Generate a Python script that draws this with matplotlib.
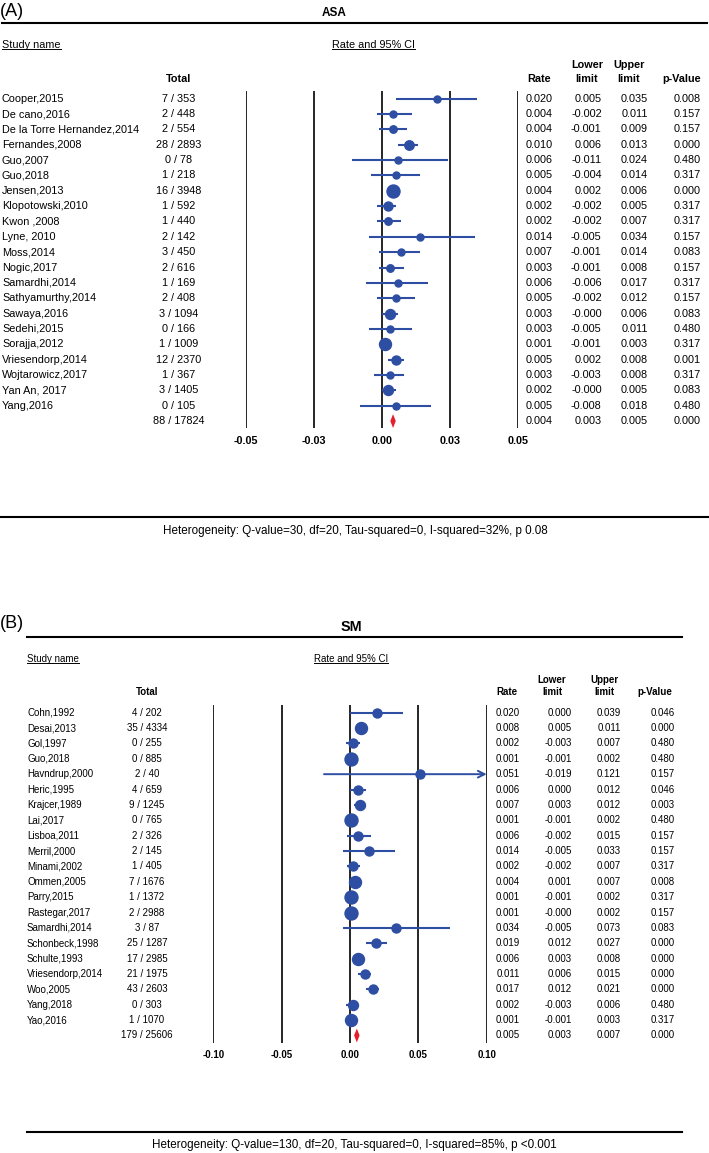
import matplotlib
matplotlib.use("Agg")
import matplotlib.pyplot as plt
from matplotlib import font_manager

plt.rcParams['font.family'] = ['Liberation Sans', 'DejaVu Sans']

W, H = 709, 1153
BLUE = '#2D4EA2'
RED = '#E4202B'

# ---------------- data: (A) ASA ----------------
study_a = ['Cooper,2015', 'De cano,2016', 'De la Torre Hernandez,2014', 'Fernandes,2008',
           'Guo,2007', 'Guo,2018', 'Jensen,2013', 'Klopotowski,2010', 'Kwon ,2008',
           'Lyne, 2010', 'Moss,2014', 'Nogic,2017', 'Samardhi,2014', 'Sathyamurthy,2014',
           'Sawaya,2016', 'Sedehi,2015', 'Sorajja,2012', 'Vriesendorp,2014',
           'Wojtarowicz,2017', 'Yan An, 2017', 'Yang,2016']
events_a = [7, 2, 2, 28, 0, 1, 16, 1, 1, 2, 3, 2, 1, 2, 3, 0, 1, 12, 1, 3, 0]
total_a = [353, 448, 554, 2893, 78, 218, 3948, 592, 440, 142, 450, 616, 169, 408,
           1094, 166, 1009, 2370, 367, 1405, 105]
rate_a = [0.020, 0.004, 0.004, 0.010, 0.006, 0.005, 0.004, 0.002, 0.002, 0.014, 0.007,
          0.003, 0.006, 0.005, 0.003, 0.003, 0.001, 0.005, 0.003, 0.002, 0.005]
lower_a = [0.005, -0.002, -0.001, 0.006, -0.011, -0.004, 0.002, -0.002, -0.002, -0.005,
           -0.001, -0.001, -0.006, -0.002, -0.0, -0.005, -0.001, 0.002, -0.003, -0.0, -0.008]
upper_a = [0.035, 0.011, 0.009, 0.013, 0.024, 0.014, 0.006, 0.005, 0.007, 0.034, 0.014,
           0.008, 0.017, 0.012, 0.006, 0.011, 0.003, 0.008, 0.008, 0.005, 0.018]
pval_a = [0.008, 0.157, 0.157, 0.000, 0.480, 0.317, 0.000, 0.317, 0.317, 0.157, 0.083,
          0.157, 0.317, 0.157, 0.083, 0.480, 0.317, 0.001, 0.317, 0.083, 0.480]
weight_a = [29, 29, 33, 53, 29, 29, 100, 48, 33, 29, 29, 33, 29, 29, 59, 29, 85, 48, 29, 59, 29]
pooled_a = [88, 17824, 0.004, 0.003, 0.005, 0.000]
het_a = 'Heterogeneity: Q-value=30, df=20, Tau-squared=0, I-squared=32%, p 0.08'

# ---------------- data: (B) SM ----------------
study_b = ['Cohn,1992', 'Desai,2013', 'Gol,1997', 'Guo,2018', 'Havndrup,2000', 'Heric,1995',
           'Krajcer,1989', 'Lai,2017', 'Lisboa,2011', 'Merril,2000', 'Minami,2002',
           'Ommen,2005', 'Parry,2015', 'Rastegar,2017', 'Samardhi,2014', 'Schonbeck,1998',
           'Schulte,1993', 'Vriesendorp,2014', 'Woo,2005', 'Yang,2018', 'Yao,2016']
events_b = [4, 35, 0, 0, 2, 4, 9, 0, 2, 2, 1, 7, 1, 2, 3, 25, 17, 21, 43, 0, 1]
total_b = [202, 4334, 255, 885, 40, 659, 1245, 765, 326, 145, 405, 1676, 1372, 2988, 87,
           1287, 2985, 1975, 2603, 303, 1070]
rate_b = [0.020, 0.008, 0.002, 0.001, 0.051, 0.006, 0.007, 0.001, 0.006, 0.014, 0.002,
          0.004, 0.001, 0.001, 0.034, 0.019, 0.006, 0.011, 0.017, 0.002, 0.001]
lower_b = [0.000, 0.005, -0.003, -0.001, -0.019, 0.000, 0.003, -0.001, -0.002, -0.005,
           -0.002, 0.001, -0.001, -0.0, -0.005, 0.012, 0.003, 0.006, 0.012, -0.003, -0.001]
upper_b = [0.039, 0.011, 0.007, 0.002, 0.121, 0.012, 0.012, 0.002, 0.015, 0.033, 0.007,
           0.007, 0.002, 0.002, 0.073, 0.027, 0.008, 0.015, 0.021, 0.006, 0.003]
pval_b = [0.046, 0.000, 0.480, 0.480, 0.157, 0.046, 0.003, 0.480, 0.157, 0.157, 0.317,
          0.008, 0.317, 0.157, 0.083, 0.000, 0.000, 0.000, 0.000, 0.480, 0.317]
weight_b = [48, 85, 48, 100, 48, 48, 59, 100, 48, 48, 48, 85, 100, 100, 48, 48, 85, 48, 48, 59, 85]
pooled_b = [179, 25606, 0.005, 0.003, 0.007, 0.000]
het_b = 'Heterogeneity: Q-value=130, df=20, Tau-squared=0, I-squared=85%, p <0.001'

# panel B looks set in a condensed face
names = {f.name for f in font_manager.fontManager.ttflist}
if 'Liberation Sans Narrow' in names:
    fam_b, fs_b = ['Liberation Sans Narrow', 'DejaVu Sans'], 8.4
else:
    fam_b, fs_b = ['Liberation Sans', 'DejaVu Sans'], 7.0

fig = plt.figure(figsize=(W / 100, H / 100), dpi=100)
bg = fig.add_axes([0, 0, 1, 1])
bg.set_xlim(0, W)
bg.set_ylim(H, 0)
bg.axis('off')

underlined = []


def panel(label, title, study, events, total, rate, lower, upper, pval, weight, pooled, het, L):
    kw = dict(fontsize=L['fs'], family=L['fam'], va='center')
    bkw = dict(kw, fontweight='bold', ha='center')
    y0, dy = L['row0'], L['dy']
    bg.text(L['lab_x'], L['lab_y'], label, fontsize=13, va='center', ha='left')
    bg.text(L['title_x'], L['title_y'], title, fontsize=L['title_fs'], fontweight='bold',
            va='center', ha='center')
    bg.plot(L['rule'][:2], [L['rule'][2]] * 2, color='black', lw=1.5)
    t1 = bg.text(L['left'], L['hdr_y'], 'Study name', ha='left', **kw)
    t2 = bg.text(L['ci_x'], L['hdr_y'], 'Rate and 95% CI', ha='left', **kw)
    underlined.extend([t1, t2])
    bg.text(L['tot_x'], L['hdr2_y'], 'Total', **bkw)
    hx = L['col_hdr']
    bg.text(hx[0], L['hdr2_y'], 'Rate', **bkw)
    bg.text(hx[1], L['hdr1_y'], 'Lower', **bkw)
    bg.text(hx[1], L['hdr2_y'], 'limit', **bkw)
    bg.text(hx[2], L['hdr1_y'], 'Upper', **bkw)
    bg.text(hx[2], L['hdr2_y'], 'limit', **bkw)
    bg.text(hx[3], L['hdr2_y'], 'p-Value', **bkw)

    n = len(study)
    cx = L['cols']
    for i in range(n):
        y = y0 + dy * i
        bg.text(L['left'], y, study[i], ha='left', **kw)
        bg.text(L['tot_x'], y, f'{events[i]} / {total[i]}', ha='center', **kw)
        for x, v in zip(cx, [rate[i], lower[i], upper[i], pval[i]]):
            bg.text(x, y, f'{v:.3f}', ha='right', **kw)
    y = y0 + dy * n
    bg.text(L['tot_x'], y, f'{pooled[0]} / {pooled[1]}', ha='center', **kw)
    for x, v in zip(cx, pooled[2:]):
        bg.text(x, y, f'{v:.3f}', ha='right', **kw)

    # forest plot axes
    px0, px1 = L['plot']
    top, bot = L['lines']
    ax = fig.add_axes([px0 / W, 1 - bot / H, (px1 - px0) / W, (bot - top) / H])
    lim = L['xlim']
    ax.set_xlim(-lim, lim)
    ax.set_ylim((bot - y0) / dy, (top - y0) / dy)
    ax.axis('off')
    for t in L['ticks']:
        ax.axvline(t, color='black', lw=1.2, zorder=1)
    for t, s in zip(L['ticks'], L['ticklabels']):
        bg.text(px0 + (t + lim) / (2 * lim) * (px1 - px0), L['tick_y'], s, **bkw)
    wmax = max(weight)
    for i in range(n):
        hi = upper[i]
        if hi > lim:
            ax.annotate('', xy=(lim, i), xytext=(lower[i], i),
                        arrowprops=dict(arrowstyle='->', color=BLUE, lw=1.4,
                                        shrinkA=0, shrinkB=0, mutation_scale=12),
                        annotation_clip=False, zorder=2)
        else:
            ax.plot([lower[i], hi], [i, i], color=BLUE, lw=1.5, zorder=2, solid_capstyle='butt')
        d = L['dmax'] * (weight[i] / wmax) ** 0.5
        ax.plot(rate[i], i, 'o', color=BLUE, ms=d * 0.72, mec=BLUE, zorder=3)
    ax.fill([pooled[3], pooled[2], pooled[4], pooled[2]],
            [n, n - 0.45, n, n + 0.45], color=RED, zorder=3, lw=0)

    bg.plot(L['het_rule'][:2], [L['het_rule'][2]] * 2, color='black', lw=1.5)
    bg.text(L['het_x'], L['het_y'], het, fontsize=8.4, va='center', ha='center')


lay_a = dict(fs=7.8, fam=['Liberation Sans', 'DejaVu Sans'], lab_x=0, lab_y=11,
             title_x=334, title_y=13, title_fs=8.5,
             rule=(2, 707, 22.7), left=2, hdr_y=45, ci_x=332, hdr1_y=65, hdr2_y=78.7,
             tot_x=179, col_hdr=[539, 587, 629, 681.7], cols=[552.7, 601.7, 648, 700.7],
             row0=98.7, dy=15.35, plot=(246, 518.3), lines=(90.7, 428), xlim=0.05,
             ticks=[-0.05, -0.025, 0, 0.025, 0.05],
             ticklabels=['-0.05', '-0.03', '0.00', '0.03', '0.05'], tick_y=441,
             dmax=13, het_rule=(0, 709, 516.7), het_x=355, het_y=530.7)
lay_b = dict(fs=fs_b, fam=fam_b, lab_x=0, lab_y=624, title_x=351, title_y=626.7, title_fs=10.4,
             rule=(27, 682, 637), left=27, hdr_y=659, ci_x=314, hdr1_y=680, hdr2_y=692.3,
             tot_x=147, col_hdr=[507.3, 552, 604, 655], cols=[520, 571.7, 620.7, 675],
             row0=712.7, dy=15.37, plot=(213.3, 486.7), lines=(705, 1042.7), xlim=0.10,
             ticks=[-0.10, -0.05, 0, 0.05, 0.10],
             ticklabels=['-0.10', '-0.05', '0.00', '0.05', '0.10'], tick_y=1055,
             dmax=13, het_rule=(27, 682, 1131.7), het_x=354, het_y=1145)

panel('(A)', 'ASA', study_a, events_a, total_a, rate_a, lower_a, upper_a, pval_a,
      weight_a, pooled_a, het_a, lay_a)
panel('(B)', 'SM', study_b, events_b, total_b, rate_b, lower_b, upper_b, pval_b,
      weight_b, pooled_b, het_b, lay_b)

# underline the "Study name" / "Rate and 95% CI" headers
fig.canvas.draw()
inv = bg.transData.inverted()
for t in underlined:
    bb = t.get_window_extent()
    (x0, yb), (x1, _) = inv.transform([[bb.x0, bb.y0], [bb.x1, bb.y1]])
    bg.plot([x0, x1], [yb - 1, yb - 1], color='black', lw=0.7)

fig.savefig('out.png', dpi=100)
